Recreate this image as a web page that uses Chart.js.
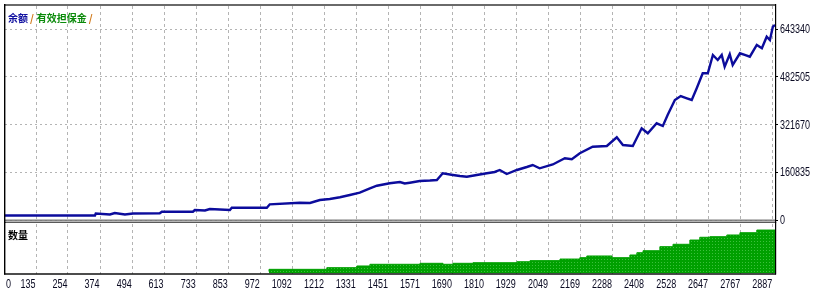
<!DOCTYPE html>
<html lang="zh">
<head>
<meta charset="UTF-8">
<title>余额 / 有效担保金</title>
<script src="https://cdn.jsdelivr.net/npm/chart.js"></script>
<style>
  body { margin: 0; background: #fff; }
  #wrap { position: relative; width: 820px; height: 300px; }
  canvas { position: absolute; left: 0; }
</style>
</head>
<body>
<div id="wrap">
  <canvas id="balance" width="820" height="228" style="top:0"></canvas>
  <canvas id="lots" width="820" height="78" style="top:222px"></canvas>
</div>
<script>
// tick labels
const xTicks = [0, 135, 254, 374, 494, 613, 733, 853, 972, 1092, 1212, 1331, 1451, 1571, 1690, 1810, 1929, 2049, 2169, 2288, 2408, 2528, 2647, 2767, 2887];
const yTicks = [0, 160835, 321670, 482505, 643340];

// balance (余额)
const balanceX = [19, 355, 358, 411, 429, 467, 497, 597, 605, 721, 728, 766, 784, 859, 866, 997, 1008, 1120, 1158, 1195,
  1232, 1270, 1307, 1344, 1382, 1408, 1456, 1494, 1512, 1531, 1568, 1606, 1632, 1654, 1692, 1718, 1744, 1781, 1819, 1848,
  1867, 1893, 1931, 1968, 1990, 2016, 2065, 2110, 2136, 2166, 2214, 2267, 2304, 2327, 2364, 2397, 2420, 2453, 2476, 2494,
  2521, 2543, 2566, 2584, 2603, 2625, 2644, 2663, 2681, 2696, 2707, 2726, 2737, 2764, 2782, 2801, 2827, 2846, 2864, 2876,
  2887, 2895];
const balanceY = [16800, 16800, 23500, 20200, 25200, 20200, 23500, 24200, 29600, 29600, 35300, 33600, 38600, 35300, 43000, 43000, 54400, 59800, 58800, 68900,
  72200, 78000, 85700, 93400, 108200, 116900, 125000, 129400, 124300, 127000, 132700, 134400, 136100, 158600, 152900, 149500, 147200, 152900, 158600, 163000,
  169700, 156200, 169700, 179800, 186500, 175400, 188200, 209000, 205600, 225800, 248000, 250300, 279600, 253700, 250300, 309800, 293000, 326600, 317500, 354500,
  404900, 418300, 410600, 404900, 445200, 494600, 494600, 556100, 539300, 556100, 516800, 558400, 522500, 561800, 556100, 550400, 589700, 578600, 617600, 606500,
  651200, 656900];

// lots (数量)
const lotsX = [1005, 1221, 1333, 1382, 1569, 1655, 1692, 1767, 1931, 1980, 2092, 2166, 2192, 2286, 2353, 2379, 2402, 2465,
  2514, 2577, 2614, 2652, 2715, 2764, 2827, 2865, 2895];
const lotsY = [0.2, 0.42, 0.59, 0.76, 0.93, 1.03, 0.93, 1.03, 1.09, 1.19, 1.3, 1.46, 1.6, 1.77, 1.6, 1.87, 2.1, 2.3,
  2.71, 2.95, 3.38, 3.66, 3.72, 3.89, 4.12, 4.39, 4.39];

const legendTop = ['余额', '有效担保金'];
const legendBottom = '数量';

const xMin = 19, xMax = 2895;
const numFont = '12px "Liberation Sans", Arial, sans-serif';
const gridCol = '#b4b4b4';

// narrow label, like the tester's small font
function narrowText(ctx, text, x, y, align) {
  ctx.save();
  ctx.translate(x, y);
  ctx.scale(0.75, 1);
  ctx.textAlign = align;
  ctx.fillText(text, 0, 0);
  ctx.restore();
}

function xScale() {
  return {
    type: 'linear', min: xMin, max: xMax,
    afterBuildTicks: s => { s.ticks = xTicks.filter(v => v >= xMin).map(v => ({ value: v })); },
    afterFit: s => { s.height = 0; s.paddingLeft = 0; s.paddingRight = 0; },
    ticks: { display: false },
    grid: { color: gridCol, drawTicks: false, lineWidth: 1 },
    border: { display: false, dash: [3, 3] }
  };
}

// green fill with small dots
const tile = document.createElement('canvas');
tile.width = 3; tile.height = 3;
const tc = tile.getContext('2d');
tc.fillStyle = '#00a000'; tc.fillRect(0, 0, 3, 3);
tc.fillStyle = '#3cc03c'; tc.fillRect(1, 1, 1, 1);
const greenFill = tc.createPattern(tile, 'repeat');

const frameTop = {
  id: 'frameTop',
  afterDraw(chart) {
    const ctx = chart.ctx, ys = chart.scales.y;
    ctx.save();
    // separator between panels
    ctx.fillStyle = '#5a5a5a'; ctx.fillRect(4, 219.6, 772, 1.2);
    ctx.fillStyle = '#c4c4c4'; ctx.fillRect(4, 220.8, 772, 1);
    ctx.fillStyle = '#5a5a5a'; ctx.fillRect(4, 221.8, 772, 1.2);
    // frame
    ctx.fillStyle = '#6a6a6a'; ctx.fillRect(4, 4, 772, 2);
    ctx.fillStyle = '#000';
    ctx.fillRect(4, 4, 1.4, 219);
    ctx.fillRect(775, 4, 1.2, 219);
    // y tick labels
    ctx.font = numFont;
    ctx.fillStyle = '#0a0a22';
    ctx.textBaseline = 'middle';
    yTicks.forEach(v => narrowText(ctx, String(v), 780, ys.getPixelForValue(v) + 0.5, 'left'));
    // legend
    ctx.font = 'bold 10px "Noto Sans CJK SC", sans-serif';
    ctx.textAlign = 'left';
    let x = 8;
    const cols = ['#1010a0', '#0a8a0a'];
    legendTop.forEach((t, i) => {
      ctx.fillStyle = cols[i];
      ctx.fillText(t, x, 18);
      x += ctx.measureText(t).width + 2;
      ctx.fillStyle = '#d07818';
      ctx.fillText('/', x, 18);
      x += ctx.measureText('/').width + 3;
    });
    ctx.restore();
  }
};

const frameBottom = {
  id: 'frameBottom',
  afterDraw(chart) {
    const ctx = chart.ctx, a = chart.chartArea, xs = chart.scales.x;
    ctx.save();
    ctx.fillStyle = '#000';
    ctx.fillRect(4, 0, 1.4, 52.5);
    ctx.fillRect(775, 0, 1.2, 52.5);
    ctx.fillRect(4, 51.3, 772, 1.4);
    ctx.font = 'bold 10px "Noto Sans CJK SC", sans-serif';
    ctx.textBaseline = 'middle';
    ctx.textAlign = 'left';
    ctx.fillText(legendBottom, 8, 13);
    // x tick labels
    ctx.font = numFont;
    ctx.fillStyle = '#0a0a22';
    xTicks.forEach((v, i) => {
      if (i === 0) narrowText(ctx, String(v), a.left + 1, 63, 'left');
      else narrowText(ctx, String(v), xs.getPixelForValue(v) - 0.5, 63, 'right');
    });
    ctx.restore();
  }
};

new Chart(document.getElementById('balance'), {
  type: 'line',
  data: {
    datasets: [{
      data: balanceX.map((x, i) => ({ x: x, y: balanceY[i] })),
      borderColor: '#0c0c9c',
      borderWidth: 2.4,
      pointRadius: 0,
      tension: 0
    }]
  },
  options: {
    responsive: false,
    animation: false,
    events: [],
    layout: { padding: { left: 5, top: 6, right: 0, bottom: 7.5 } },
    plugins: { legend: { display: false }, tooltip: { enabled: false } },
    scales: {
      x: xScale(),
      y: {
        position: 'right', min: 0, max: 720700,
        afterBuildTicks: s => { s.ticks = yTicks.map(v => ({ value: v })); },
        afterFit: s => { s.width = 45; s.paddingTop = 0; s.paddingBottom = 0; },
        ticks: { display: false },
        grid: { color: gridCol, tickColor: '#000', tickLength: 3, lineWidth: 1 },
        border: { display: false, dash: [2, 3] }
      }
    }
  },
  plugins: [frameTop]
});

new Chart(document.getElementById('lots'), {
  type: 'line',
  data: {
    datasets: [{
      data: lotsX.map((x, i) => ({ x: x, y: lotsY[i] })),
      stepped: 'after',
      borderColor: '#00a000',
      borderWidth: 1,
      backgroundColor: greenFill,
      fill: 'origin',
      pointRadius: 0
    }]
  },
  options: {
    responsive: false,
    animation: false,
    events: [],
    layout: { padding: { left: 5, top: 2, right: 0, bottom: 26.5 } },
    plugins: { legend: { display: false }, tooltip: { enabled: false } },
    scales: {
      x: xScale(),
      y: {
        position: 'right', min: 0, max: 5,
        afterFit: s => { s.width = 45; s.paddingTop = 0; s.paddingBottom = 0; },
        ticks: { display: false },
        grid: { display: false },
        border: { display: false }
      }
    }
  },
  plugins: [frameBottom]
});
</script>
</body>
</html>
